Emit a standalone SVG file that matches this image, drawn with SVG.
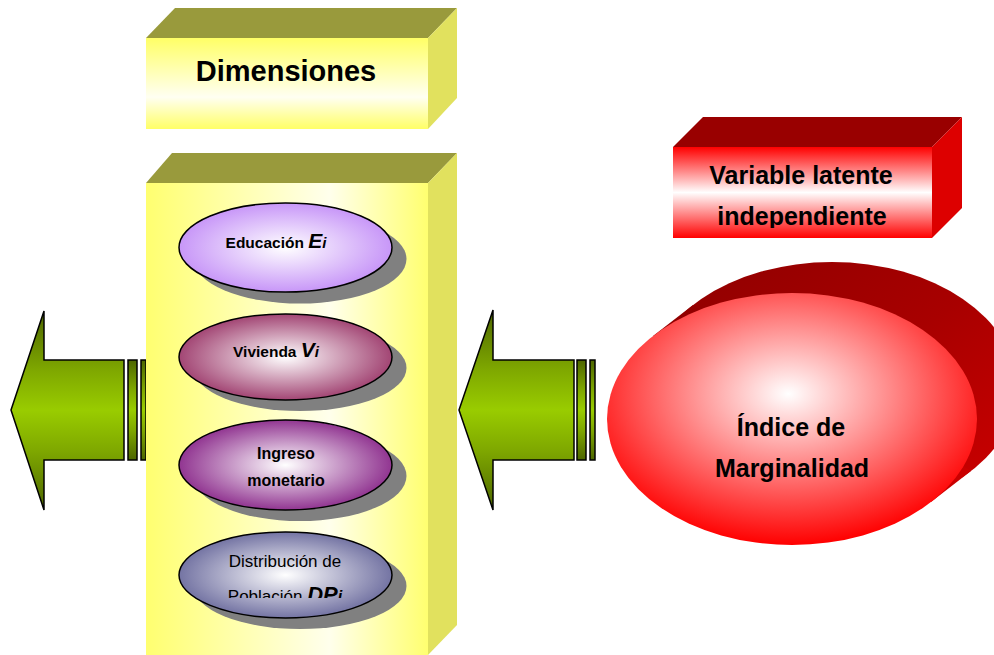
<svg xmlns="http://www.w3.org/2000/svg" width="994" height="655" viewBox="0 0 994 655">
<defs>
<style>
.t{font-family:"Liberation Sans",Arial,sans-serif;font-weight:bold;fill:#000}
.r{font-weight:normal}
.bi{font-style:italic;font-weight:bold}
.olive{fill:#999A3C}
.yside{fill:#E1E15E}
.ell{stroke:#000;stroke-width:1.5}
.shadow{fill:#808080}
.arr{fill:url(#gGreen);stroke:#000;stroke-width:1.5;stroke-linejoin:miter}
</style>
<linearGradient id="gGreen" x1="0" y1="0" x2="0" y2="1">
<stop offset="0" stop-color="#4D6600"/>
<stop offset="0.3" stop-color="#7FA800"/>
<stop offset="0.5" stop-color="#99CC00"/>
<stop offset="0.7" stop-color="#7FA800"/>
<stop offset="1" stop-color="#4D6600"/>
</linearGradient>
<linearGradient id="gYelV" x1="0" y1="0" x2="0" y2="1">
<stop offset="0" stop-color="#FFFF66"/>
<stop offset="0.65" stop-color="#FFFFF2"/>
<stop offset="1" stop-color="#FFFF66"/>
</linearGradient>
<linearGradient id="gYelH" x1="0" y1="0" x2="1" y2="0">
<stop offset="0" stop-color="#FFFF70"/>
<stop offset="0.65" stop-color="#FFFFEC"/>
<stop offset="1" stop-color="#FFFF70"/>
</linearGradient>
<linearGradient id="gRedV" x1="0" y1="0" x2="0" y2="1">
<stop offset="0" stop-color="#FF0000"/>
<stop offset="0.5" stop-color="#FFFFFF"/>
<stop offset="1" stop-color="#FF0000"/>
</linearGradient>
<linearGradient id="gRedBack" x1="0" y1="0" x2="1" y2="1">
<stop offset="0" stop-color="#8E0000"/>
<stop offset="0.5" stop-color="#A80000"/>
<stop offset="1" stop-color="#D00000"/>
</linearGradient>
<radialGradient id="gRedE" cx="0.49" cy="0.4" r="0.6">
<stop offset="0" stop-color="#FFFFFF"/>
<stop offset="1" stop-color="#FF0000"/>
</radialGradient>
<radialGradient id="gLav" cx="0.5" cy="0.5" r="0.55">
<stop offset="0" stop-color="#FFFFFF"/>
<stop offset="1" stop-color="#C28CF7"/>
</radialGradient>
<radialGradient id="gMar" cx="0.5" cy="0.5" r="0.55">
<stop offset="0" stop-color="#FFFFFF"/>
<stop offset="1" stop-color="#993366"/>
</radialGradient>
<radialGradient id="gPur" cx="0.5" cy="0.5" r="0.55">
<stop offset="0" stop-color="#FFFFFF"/>
<stop offset="1" stop-color="#862186"/>
</radialGradient>
<radialGradient id="gSla" cx="0.5" cy="0.5" r="0.55">
<stop offset="0" stop-color="#FFFFFF"/>
<stop offset="1" stop-color="#66669A"/>
</radialGradient>
<clipPath id="clipDP"><rect x="180" y="540" width="220" height="58"/></clipPath>
<clipPath id="clipVar"><rect x="673" y="147" width="259" height="81"/></clipPath>
</defs>
<rect width="994" height="655" fill="#FFFFFF"/>

<g id="connectors">
<g id="arrow-left">
<path class="arr" d="M11,410 L44,311 L44,360 L124,360 L124,460 L44,460 L44,510 Z"/>
<rect class="arr" x="128" y="360" width="9" height="100"/>
<rect class="arr" x="141" y="360" width="5" height="100"/>
</g>
<g id="arrow-right">
<path class="arr" d="M459,410 L493,310 L493,360 L574,360 L574,460 L493,460 L493,510 Z"/>
<rect class="arr" x="577" y="360" width="9" height="100"/>
<rect class="arr" x="590" y="360" width="5" height="100"/>
</g>
</g>

<g id="node-dimensiones">
<polygon class="olive" points="146,38 175,8 457,8 428,38"/>
<polygon class="yside" points="428,38 457,8 457,98 428,129"/>
<rect x="146" y="38" width="282" height="91" fill="url(#gYelV)"/>
<text class="t" x="286" y="81" font-size="29" text-anchor="middle">Dimensiones</text>
</g>

<g id="node-dimension-box">
<polygon class="olive" points="146,183 172,153 457,153 428,183"/>
<polygon class="yside" points="428,183 457,153 457,625 428,655"/>
<rect x="146" y="183" width="282" height="472" fill="url(#gYelH)"/>
</g>

<g id="node-educacion">
<ellipse class="shadow" cx="300" cy="259" rx="106.5" ry="44.5"/>
<ellipse class="ell" cx="285.5" cy="247.5" rx="106.5" ry="44.5" fill="url(#gLav)"/>
<text class="t" x="276" y="248" font-size="15.5" text-anchor="middle">Educación <tspan class="bi" font-size="21">E</tspan><tspan class="bi" font-size="15">i</tspan></text>
</g>

<g id="node-vivienda">
<ellipse class="shadow" cx="300" cy="368" rx="106.5" ry="43"/>
<ellipse class="ell" cx="285.5" cy="357" rx="106.5" ry="43" fill="url(#gMar)"/>
<text class="t" x="276" y="357" font-size="15.5" text-anchor="middle">Vivienda  <tspan class="bi" font-size="21">V</tspan><tspan class="bi" font-size="15">i</tspan></text>
</g>

<g id="node-ingreso">
<ellipse class="shadow" cx="300" cy="476" rx="106.5" ry="45"/>
<ellipse class="ell" cx="285.5" cy="465" rx="106.5" ry="45" fill="url(#gPur)"/>
<text class="t" x="286" y="459" font-size="16" text-anchor="middle">Ingreso</text>
<text class="t" x="286" y="486" font-size="16" text-anchor="middle">monetario</text>
</g>

<g id="node-distribucion">
<ellipse class="shadow" cx="300" cy="586" rx="106.5" ry="43"/>
<ellipse class="ell" cx="285.5" cy="575" rx="106.5" ry="43" fill="url(#gSla)"/>
<text class="t r" x="285" y="567" font-size="17" text-anchor="middle">Distribución de</text>
<g clip-path="url(#clipDP)">
<text class="t r" x="285" y="602" font-size="17" text-anchor="middle">Población <tspan class="bi" font-size="22">DP</tspan><tspan class="bi" font-size="16">i</tspan></text>
</g>
</g>

<g id="node-variable">
<polygon fill="#990000" points="673,147 703,117 962,117 932,147"/>
<polygon fill="#DD0000" points="932,147 962,117 962,208 932,238"/>
<rect x="673" y="147" width="259" height="91" fill="url(#gRedV)"/>
<g clip-path="url(#clipVar)">
<text class="t" x="801" y="184" font-size="25" text-anchor="middle">Variable latente</text>
<text class="t" x="802" y="225" font-size="25" text-anchor="middle">independiente</text>
</g>
</g>

<g id="node-indice">
<g fill="url(#gRedBack)">
<ellipse cx="832" cy="388" rx="185" ry="126"/>
<polygon points="653,336 693,305 971,471 931,502"/>
</g>
<ellipse cx="792" cy="419" rx="185" ry="126" fill="url(#gRedE)"/>
<text class="t" x="791" y="436" font-size="25" text-anchor="middle">Índice de</text>
<text class="t" x="792" y="477" font-size="25" text-anchor="middle">Marginalidad</text>
</g>
</svg>
